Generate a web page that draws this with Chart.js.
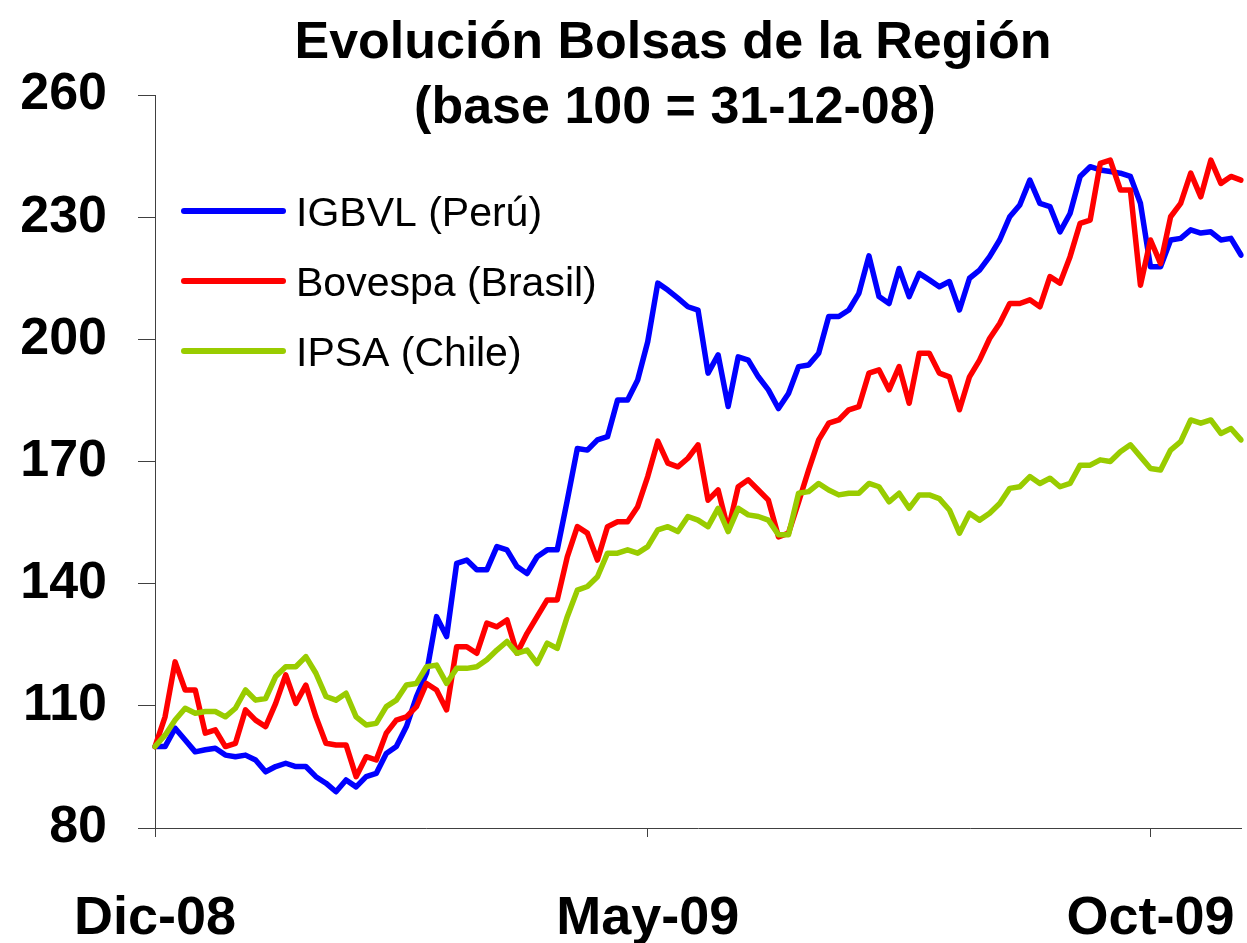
<!DOCTYPE html>
<html>
<head>
<meta charset="utf-8">
<script src="https://cdn.jsdelivr.net/npm/chart.js@4.4.1/dist/chart.umd.min.js"></script>
<style>
  html, body { margin: 0; padding: 0; background: #fff; }
  #wrap { width: 1247px; height: 943px; }
</style>
</head>
<body>
<div id="wrap"><canvas id="myChart" width="1247" height="943"></canvas></div>
<script>
// one point every ~10px of the original plot, Dec-08 .. early Nov-09
const igbvl = [100.0, 100.0, 104.5, 101.6, 98.7, 99.2, 99.6, 97.9, 97.5, 97.9, 96.7, 93.8, 95.1, 95.9, 95.1, 95.1, 92.6, 91.0, 88.9, 91.8, 90.1, 92.6, 93.4, 98.3, 100.0, 104.9,
  112.2, 118.0, 131.9, 127.0, 145.0, 145.8, 143.4, 143.4, 149.1, 148.3, 144.2, 142.5, 146.6, 148.3, 148.3, 160.5, 173.2, 172.8, 175.3,
  176.1, 185.1, 185.1, 190.0, 199.4, 213.8, 212.1, 210.1, 208.0, 207.2, 191.7, 196.2, 183.5, 195.7, 194.9, 190.8, 187.6, 183.0, 186.7, 193.3,
  193.7, 196.6, 205.6, 205.6, 207.2, 211.3, 220.5, 210.5, 208.8, 217.4, 210.5, 216.2, 214.6, 212.9, 214.2, 207.2, 215.0, 217.0, 220.3, 224.4,
  230.1, 233.0, 239.1, 233.4, 232.6, 226.4, 230.9, 240.0, 242.4, 241.6, 241.2, 240.8, 240.0, 233.4, 217.8, 217.8, 224.4, 224.8, 226.9, 226.1, 226.4, 224.4, 224.8, 220.7];

const bovespa = [100.0, 107.3, 120.8, 113.9, 113.9, 103.3, 104.1, 100.0, 100.8, 109.0, 106.5, 104.9, 110.6, 117.6, 110.6, 115.1, 107.3, 100.8, 100.4, 100.4, 92.6, 97.5, 96.7, 103.3, 106.5, 107.3,
  109.8, 115.5, 113.9, 109.0, 124.5, 124.5, 122.9, 130.3, 129.4, 131.1, 122.9, 127.8, 131.9, 136.0, 136.0, 146.6, 154.0, 152.4, 145.8,
  154.0, 155.2, 155.2, 158.9, 166.3, 175.0, 169.6, 168.7, 170.8, 174.1, 160.5, 163.0, 153.2, 163.8, 165.5, 163.0, 160.5, 151.5, 152.4, 160.0,
  167.9, 175.3, 179.4, 180.2, 182.7, 183.5, 191.7, 192.5, 187.6, 193.3, 184.3, 196.6, 196.6, 191.7, 190.8, 182.7, 190.8, 194.9, 200.2, 203.9,
  208.8, 208.8, 209.7, 208.0, 215.4, 213.8, 220.3, 228.5, 229.3, 243.2, 244.0, 236.7, 236.7, 213.3, 224.4, 218.6, 230.1, 233.4, 240.8, 235.0, 244.0, 238.3, 240.0, 239.1];

const ipsa = [100.0, 102.8, 106.5, 109.4, 108.2, 108.6, 108.6, 107.3, 109.4, 113.9, 111.4, 111.8, 117.2, 119.6, 119.6, 122.1, 118.0, 112.3, 111.4, 113.1, 107.3, 105.3, 105.7, 109.8, 111.4, 115.1,
  115.5, 119.6, 120.0, 115.5, 119.2, 119.2, 119.6, 121.3, 123.7, 125.8, 122.9, 123.7, 120.4, 125.4, 124.1, 131.9, 138.4, 139.3, 141.7,
  147.5, 147.5, 148.3, 147.5, 149.1, 153.2, 154.0, 152.8, 156.5, 155.6, 154.0, 158.5, 152.8, 158.5, 156.9, 156.5, 155.6, 152.0, 152.0, 162.2,
  162.6, 164.6, 163.0, 161.8, 162.2, 162.2, 164.6, 163.8, 160.1, 162.2, 158.5, 161.8, 161.8, 160.9, 158.1, 152.4, 157.3, 155.6, 157.3, 159.7,
  163.4, 163.8, 166.3, 164.6, 165.9, 163.8, 164.6, 169.1, 169.1, 170.4, 170.0, 172.4, 174.1, 171.2, 168.3, 167.9, 172.8, 174.9, 180.2, 179.4, 180.2, 176.9, 178.1, 175.3];

const seriesNames = ['IGBVL (Perú)', 'Bovespa (Brasil)', 'IPSA (Chile)'];
const seriesColors = ['#0000ff', '#ff0000', '#99cc00'];

const tickLabels = ['Dic-08', 'May-09', 'Oct-09'];
const tickIndex = [0, 49, 99];

const yTicks = [80, 110, 140, 170, 200, 230, 260];

const titleLines = ['Evolución Bolsas de la Región', '(base 100 = 31-12-08)'];

const categories = igbvl.map((v, i) => i);
const FONT = '"Liberation Sans", Arial, sans-serif';

// title and legend sit inside the plot area in the original, so draw them by hand
const overlay = {
    id: 'overlay',
    afterDraw(chart) {
        const ctx = chart.ctx;
        ctx.save();
        ctx.fillStyle = '#000';
        ctx.textAlign = 'center';
        ctx.textBaseline = 'alphabetic';
        ctx.font = 'bold 52px ' + FONT;
        ctx.fillText(titleLines[0], 673, 58);
        ctx.fillText(titleLines[1], 675, 123);

        ctx.textAlign = 'left';
        ctx.font = '41px ' + FONT;
        const rows = [211, 281, 351];
        seriesNames.forEach((name, i) => {
            ctx.strokeStyle = seriesColors[i];
            ctx.lineWidth = 6;
            ctx.lineCap = 'round';
            ctx.beginPath();
            ctx.moveTo(184, rows[i]);
            ctx.lineTo(283, rows[i]);
            ctx.stroke();
            ctx.fillText(name, 296, rows[i] + 15);
        });
        ctx.restore();
    }
};

const ctx = document.getElementById('myChart').getContext('2d');
const myChart = new Chart(ctx, {
    type: 'line',
    data: {
        labels: categories,
        datasets: [
            { label: seriesNames[0], data: igbvl, borderColor: seriesColors[0], order: 3 },
            { label: seriesNames[1], data: bovespa, borderColor: seriesColors[1], order: 2 },
            { label: seriesNames[2], data: ipsa, borderColor: seriesColors[2], order: 1 }
        ]
    },
    options: {
        responsive: false,
        animation: false,
        layout: { padding: { top: 95, right: 6, left: 0, bottom: 0 } },
        elements: {
            line: { borderWidth: 5.5, tension: 0, borderJoinStyle: 'round', borderCapStyle: 'round' },
            point: { radius: 0 }
        },
        plugins: {
            legend: { display: false },
            title: { display: false },
            tooltip: { enabled: false }
        },
        scales: {
            x: {
                type: 'category',
                offset: false,
                border: { display: true, color: '#404040', width: 1 },
                grid: { drawOnChartArea: false, drawTicks: true, tickLength: 9, color: '#404040' },
                ticks: {
                    autoSkip: false,
                    maxRotation: 0,
                    padding: 50,
                    color: '#000',
                    font: { family: FONT, size: 54, weight: 'bold' },
                    callback: function(value, index) {
                        const k = tickIndex.indexOf(index);
                        return k >= 0 ? tickLabels[k] : null;
                    }
                },
                afterFit: function(scale) {
                    scale.height = 115;
                    scale.paddingLeft = 0;
                    scale.paddingRight = 0;
                }
            },
            y: {
                min: yTicks[0],
                max: yTicks[yTicks.length - 1],
                border: { display: true, color: '#404040', width: 1 },
                grid: { drawOnChartArea: false, drawTicks: true, tickLength: 17, color: '#404040' },
                afterBuildTicks: function(scale) { scale.ticks = yTicks.map(v => ({ value: v })); },
                ticks: {
                    padding: 31,
                    color: '#000',
                    font: { family: FONT, size: 52, weight: 'bold' }
                },
                afterFit: function(scale) { scale.width = 155; }
            }
        }
    },
    plugins: [overlay]
});
</script>
</body>
</html>
